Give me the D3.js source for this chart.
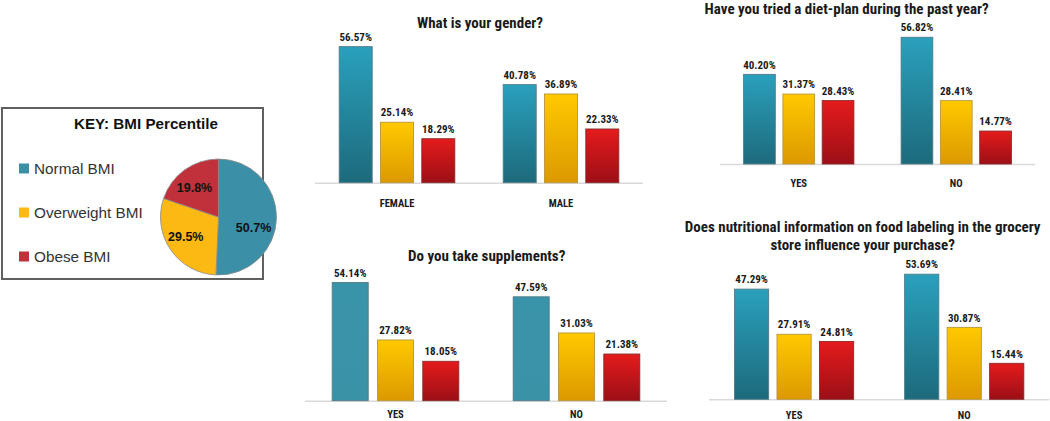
<!DOCTYPE html>
<html><head><meta charset="utf-8">
<script src="https://cdn.jsdelivr.net/npm/d3@7/dist/d3.min.js"></script>
<style>
html,body{margin:0;padding:0;background:#fff;}
svg{display:block;}
.narrow{font-family:"Liberation Sans Narrow","Arial Narrow","Roboto Condensed",sans-serif;font-weight:bold;fill:#1a1a1a;}
</style></head>
<body>
<svg id="c" width="1050" height="421"></svg>
<script>
// ---------- data ----------
const seriesNames = ["Normal BMI", "Overweight BMI", "Obese BMI"];
const pieValues = [50.7, 29.5, 19.8];
const pieLabels = ["50.7%", "29.5%", "19.8%"];

const genderCats = ["FEMALE", "MALE"];
const genderNormal = [56.57, 40.78];
const genderOver = [25.14, 36.89];
const genderObese = [18.29, 22.33];

const dietCats = ["YES", "NO"];
const dietNormal = [40.20, 56.82];
const dietOver = [31.37, 28.41];
const dietObese = [28.43, 14.77];

const suppCats = ["YES", "NO"];
const suppNormal = [54.14, 47.59];
const suppOver = [27.82, 31.03];
const suppObese = [18.05, 21.38];

const labelCats = ["YES", "NO"];
const labelNormal = [47.29, 53.69];
const labelOver = [27.91, 30.87];
const labelObese = [24.81, 15.44];

// ---------- drawing ----------
const svg = d3.select("#c");
const defs = svg.append("defs");
function grad(id, top, bottom){
  const g = defs.append("linearGradient").attr("id", id).attr("x1",0).attr("y1",0).attr("x2",0).attr("y2",1);
  g.append("stop").attr("offset","0%").attr("stop-color",top);
  g.append("stop").attr("offset","100%").attr("stop-color",bottom);
}
grad("gTeal", "#2aa0bd", "#1d6a7b");
grad("gTealFlat", "#3a94a9", "#3a92a7");
grad("gYel", "#ffc900", "#dc9900");
grad("gRed", "#e41b1c", "#9c0f17");
const strokes = ["#4f7c86", "#b8963a", "#8a2a2a"];

// Key box
svg.append("rect").attr("x",2).attr("y",108).attr("width",261).attr("height",171)
  .attr("fill","#fff").attr("stroke","#606060").attr("stroke-width",2);
svg.append("text").attr("x",146).attr("y",128.5).attr("text-anchor","middle")
  .style("font-family","'Liberation Sans',Arial,sans-serif").style("font-weight","bold")
  .style("font-size","15.2px").attr("fill","#111").text("KEY: BMI Percentile");
const pieColors = ["#3b90a8", "#fcb813", "#c0313b"];
const legY = d3.scalePoint().domain(seriesNames).range([168.5, 256.5]);
seriesNames.forEach((s,i)=>{
  svg.append("rect").attr("x",19).attr("y",legY(s)-5).attr("width",10).attr("height",10).attr("fill",pieColors[i]);
  svg.append("text").attr("x",34).attr("y",legY(s)+5.4)
    .style("font-family","'Liberation Sans',Arial,sans-serif").style("font-size","15.3px")
    .attr("fill","#333").text(s);
});
// Pie
const pie = d3.pie().sort(null).value(d=>d);
const arc = d3.arc().innerRadius(0).outerRadius(58);
const pg = svg.append("g").attr("transform","translate(218.5,217)");
const arcs = pie(pieValues);
pg.selectAll("path").data(arcs).enter().append("path").attr("d",arc)
  .attr("fill",(d,i)=>pieColors[i]).attr("stroke","#8a8a8a").attr("stroke-width",0.8);
const labR = [36.5, 38, 38];
const labShift = [15, 4, -3.5].map(a=>a*Math.PI/180);
pg.selectAll("text").data(arcs).enter().append("text")
  .attr("transform",(d,i)=>{ const a=(d.startAngle+d.endAngle)/2 + labShift[i]; return `translate(${Math.sin(a)*labR[i]},${-Math.cos(a)*labR[i]+4.5})`; })
  .attr("text-anchor","middle")
  .style("font-family","'Liberation Sans',Arial,sans-serif").style("font-weight","bold").style("font-size","12.5px")
  .attr("fill","#111").text((d,i)=>pieLabels[i]);

function barChart(o){
  const g = svg.append("g");
  const x0 = d3.scaleBand().domain(o.cats).range([o.left, o.right]);
  const groupW = 3*o.barW + 2*o.gap;
  const y = d3.scaleLinear().domain([0, 60]).range([o.base, o.base - 60*o.k]);
  g.append("line").attr("x1",o.left).attr("x2",o.right).attr("y1",o.base+0.5).attr("y2",o.base+0.5)
    .attr("stroke","#d9d9d9").attr("stroke-width",1.5);
  const series = [o.normal, o.over, o.obese];
  const fills = [o.tealFill || "url(#gTeal)", "url(#gYel)", "url(#gRed)"];
  o.cats.forEach((c,ci)=>{
    const cx = x0(c) + x0.bandwidth()/2;
    const x1 = d3.scaleBand().domain(seriesNames).range([cx-groupW/2, cx+groupW/2]).paddingInner(o.gap/(o.barW+o.gap));
    seriesNames.forEach((s,si)=>{
      const v = series[si][ci];
      g.append("rect").attr("x",x1(s)).attr("y",y(v)).attr("width",x1.bandwidth()).attr("height",o.base-y(v))
        .attr("fill",fills[si]).attr("stroke",strokes[si]).attr("stroke-width",0.9);
      g.append("text").attr("class","narrow").attr("x",x1(s)+x1.bandwidth()/2).attr("y",y(v)-5.8)
        .attr("text-anchor","middle").style("font-size","11px").text(v.toFixed(2)+"%");
    });
    g.append("text").attr("class","narrow").attr("x",cx).attr("y",o.catY).attr("text-anchor","middle")
      .style("font-size","10.5px").text(c);
  });
  o.title.forEach((t,i)=>{
    g.append("text").attr("class","narrow").attr("x",o.titleX).attr("y",o.titleY + i*18.5)
      .attr("text-anchor","middle").style("font-size","15px").attr("fill","#111").text(t);
  });
}

barChart({cats:genderCats, normal:genderNormal, over:genderOver, obese:genderObese,
  left:315, right:643, base:182.7, k:2.405, barW:33, gap:8.3, catY:206.8,
  title:["What is your gender?"], titleX:480, titleY:28.3});
barChart({cats:dietCats, normal:dietNormal, over:dietOver, obese:dietObese,
  left:720, right:1035, base:164, k:2.23, barW:31.7, gap:7.6, catY:187.2,
  title:["Have you tried a diet-plan during the past year?"], titleX:846.7, titleY:14.2});
barChart({cats:suppCats, normal:suppNormal, over:suppOver, obese:suppObese,
  left:305, right:667, base:400.7, k:2.183, barW:36, gap:9.3, catY:418.3, tealFill:"url(#gTealFlat)",
  title:["Do you take supplements?"], titleX:486.7, titleY:260.7});
barChart({cats:labelCats, normal:labelNormal, over:labelOver, obese:labelObese,
  left:709, right:1049.3, base:399.3, k:2.33, barW:34.2, gap:8.3, catY:418.5,
  title:["Does nutritional information on food labeling in the grocery","store influence your purchase?"], titleX:862.7, titleY:231.7});
</script>
</body></html>
